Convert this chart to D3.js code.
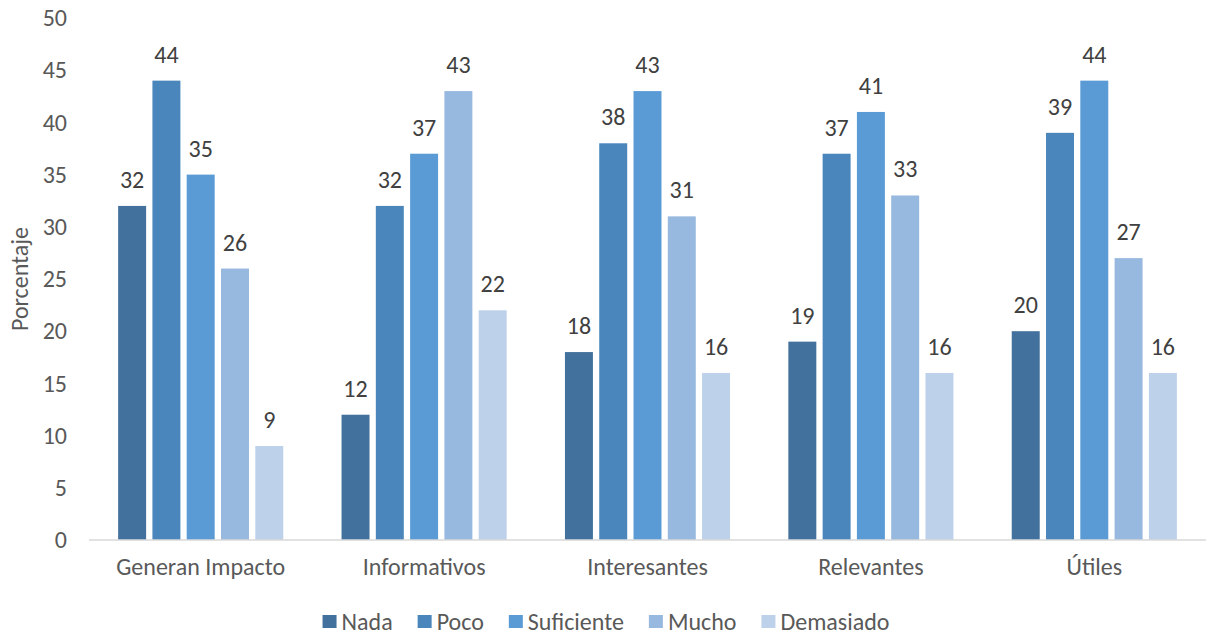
<!DOCTYPE html>
<html>
<head>
<meta charset="utf-8">
<script src="https://cdn.jsdelivr.net/npm/d3@7"></script>
<style>
  html, body { margin: 0; padding: 0; background: #fff; }
  svg { display: block; font-family: Carlito, Lato, "Open Sans", sans-serif; }
</style>
</head>
<body>
<svg id="chart" width="1206" height="635"></svg>
<script>
// Survey results: percentage per rating for each attribute
const categories = ["Generan Impacto", "Informativos", "Interesantes", "Relevantes", "Útiles"];
const seriesNames = ["Nada", "Poco", "Suficiente", "Mucho", "Demasiado"];
const nada       = [32, 12, 18, 19, 20];
const poco       = [44, 32, 38, 37, 39];
const suficiente = [35, 37, 43, 41, 44];
const mucho      = [26, 43, 31, 33, 27];
const demasiado  = [9, 22, 16, 16, 16];
const yTicks = [0, 5, 10, 15, 20, 25, 30, 35, 40, 45, 50];
const colors = ["#41719C", "#4A86BB", "#5B9BD5", "#97B8DF", "#BDD1EB"];

const seriesValues = [nada, poco, suficiente, mucho, demasiado];
const FONT = "Carlito, Lato, 'Open Sans', sans-serif";
const FS = 24;

const svg = d3.select("#chart");
const margin = { left: 89, right: 0, top: 18, bottom: 95 };
const width = 1206, height = 635;
const plotBottom = height - margin.bottom;

const x0 = d3.scaleBand().domain(categories).range([margin.left, width - margin.right]).paddingInner(0).paddingOuter(0);
const x1 = d3.scaleBand().domain(seriesNames).range([0, x0.bandwidth()]).paddingInner(0.184).paddingOuter(0.85);
const y = d3.scaleLinear().domain([0, 50]).range([plotBottom, margin.top]);

// Bars and value labels
const groups = svg.append("g").selectAll("g")
  .data(categories)
  .join("g")
  .attr("transform", d => `translate(${x0(d)},0)`);

const cells = (c, i) => seriesNames.map((s, j) => ({ s, v: seriesValues[j][i], j }));

groups.selectAll("rect")
  .data(cells)
  .join("rect")
  .attr("x", d => x1(d.s))
  .attr("width", x1.bandwidth())
  .attr("y", d => y(d.v))
  .attr("height", d => y(0) - y(d.v))
  .attr("fill", d => colors[d.j]);

groups.selectAll("text")
  .data(cells)
  .join("text")
  .attr("x", d => x1(d.s) + x1.bandwidth() / 2)
  .attr("y", d => y(d.v) - 18)
  .attr("text-anchor", "middle")
  .attr("font-size", FS)
  .attr("fill", "#404040")
  .text(d => d.v);

// Baseline
svg.append("line")
  .attr("x1", margin.left).attr("x2", width - margin.right)
  .attr("y1", y(0)).attr("y2", y(0))
  .attr("stroke", "#d9d9d9").attr("stroke-width", 1.5);

// Y axis tick labels
const yAxis = d3.axisLeft(y).tickValues(yTicks).tickSize(0).tickPadding(0);
const yg = svg.append("g").attr("transform", "translate(67,0)").call(yAxis);
yg.select(".domain").remove();
yg.selectAll("text").attr("font-size", FS).attr("fill", "#595959").attr("font-family", FONT);

// X axis category labels
const xAxis = d3.axisBottom(x0).tickSize(0).tickPadding(0);
const xg = svg.append("g").attr("transform", `translate(0,${y(0) + 18})`).call(xAxis);
xg.select(".domain").remove();
xg.selectAll("text").attr("font-size", FS).attr("fill", "#595959").attr("font-family", FONT);

// Y axis title
svg.append("text")
  .attr("transform", `translate(28,${(margin.top + plotBottom) / 2}) rotate(-90)`)
  .attr("text-anchor", "middle")
  .attr("font-size", FS)
  .attr("fill", "#595959")
  .text("Porcentaje");

// Legend, laid out from measured label widths and centred
const legend = svg.append("g");
const items = legend.selectAll("g")
  .data(seriesNames)
  .join("g");
items.append("rect")
  .attr("x", 0).attr("y", -7).attr("width", 14).attr("height", 13)
  .attr("fill", (d, i) => colors[i]);
items.append("text")
  .attr("x", 19).attr("y", 0).attr("dy", "0.35em")
  .attr("font-size", FS).attr("fill", "#595959")
  .text(d => d);
let cursor = 0;
items.each(function () {
  const g = d3.select(this);
  g.attr("transform", `translate(${cursor},0)`);
  cursor += 19 + g.select("text").node().getComputedTextLength() + 25;
});
const total = cursor - 25;
legend.attr("transform", `translate(${606 - total / 2},622)`);
</script>
</body>
</html>
